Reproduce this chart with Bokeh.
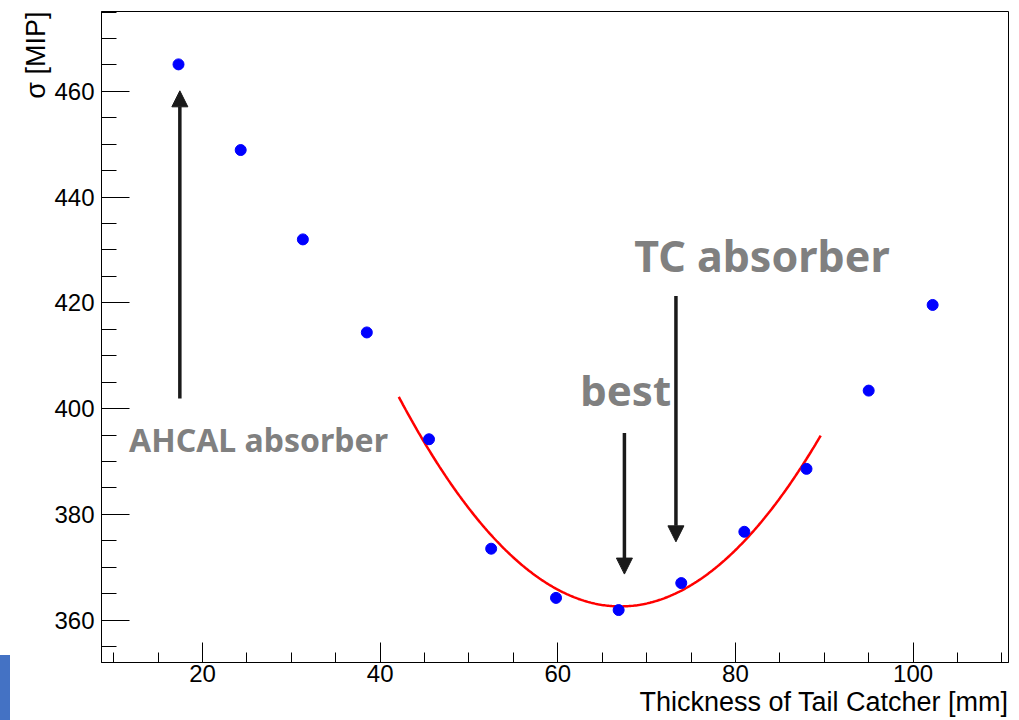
import numpy as np
from bokeh.plotting import figure
from bokeh.models import (Range1d, SingleIntervalTicker, Label, Arrow, NormalHead,
                          Title, InlineStyleSheet)
from bokeh.embed import file_html
from bokeh.resources import INLINE

# ---- data ----
thickness_mm = [17.3, 24.3, 31.3, 38.5, 45.5, 52.5, 59.8, 66.85, 73.9, 81.0, 88.0, 95.0, 102.2]
sigma_mip = [465.1, 448.9, 432.0, 414.4, 394.2, 373.5, 364.2, 361.9, 367.0, 376.7, 388.6, 403.4, 419.6]

# pol2 fit drawn in the reference: p0 + p1*x + p2*x^2
fit_p0 = 648.6
fit_p1 = -8.530
fit_p2 = 0.0636
fit_x_min = 42.1
fit_x_max = 89.6

x_range = (8.63, 110.74)
y_range = (351.98, 475.1)

x_title = "Thickness of Tail Catcher [mm]"
y_title = "σ [MIP]"

# annotation arrows: (x, y_start, y_end)
arrow_ahcal = (17.45, 401.9, 460.1)
arrow_best = (67.5, 395.4, 368.7)
arrow_tc = (73.3, 421.3, 374.8)

# ---- figure ----
p = figure(width=1019, height=720, output_backend="svg", toolbar_location=None,
           x_range=Range1d(*x_range), y_range=Range1d(*y_range),
           min_border_left=101, min_border_right=11, min_border_top=11, min_border_bottom=58)
p.background_fill_color = "white"
p.border_fill_color = "white"
p.outline_line_color = "black"
p.outline_line_width = 1
p.xgrid.visible = False
p.ygrid.visible = False

p.xaxis.ticker = SingleIntervalTicker(interval=20, num_minor_ticks=4)
p.yaxis.ticker = SingleIntervalTicker(interval=20, num_minor_ticks=4)
for ax in (p.xaxis, p.yaxis):
    ax.axis_line_color = "black"
    ax.major_tick_line_color = "black"
    ax.minor_tick_line_color = "black"
    ax.major_tick_out = 0
    ax.minor_tick_out = 0
    ax.major_label_text_font = "Liberation Sans"
    ax.major_label_text_font_size = "24px"
    ax.major_label_text_color = "black"
p.yaxis.major_tick_in = 28
p.yaxis.minor_tick_in = 15
p.yaxis.major_label_standoff = 7
p.xaxis.major_tick_in = 20
p.xaxis.minor_tick_in = 10
p.xaxis.major_label_standoff = 2

# axis titles, right/top aligned like the reference
p.add_layout(Title(text=x_title, align="right", text_font="Liberation Sans",
                   text_font_style="normal", text_font_size="27px", text_color="black",
                   standoff=0, offset=0), "below")
p.add_layout(Title(text=y_title, align="right", text_font="Liberation Sans",
                   text_font_style="normal", text_font_size="27px", text_color="black",
                   standoff=2, offset=0), "left")

# fit curve
xf = np.linspace(fit_x_min, fit_x_max, 300)
yf = fit_p0 + fit_p1 * xf + fit_p2 * xf ** 2
p.line(xf, yf, line_color="red", line_width=2.5)

# data points
p.scatter(thickness_mm, sigma_mip, size=11, color="#0000ff")

# arrows
for (ax_x, ys, ye) in (arrow_ahcal, arrow_best, arrow_tc):
    p.add_layout(Arrow(end=NormalHead(size=16, fill_color="#1a1a1a", line_color="#1a1a1a"),
                       x_start=ax_x, y_start=ys, x_end=ax_x, y_end=ye,
                       line_color="#1a1a1a", line_width=3.5))

# annotation texts
gray = "#808080"
p.add_layout(Label(x=11.73, y=394.15, text="AHCAL absorber", text_font="Noto Sans",
                   text_font_style="bold", text_font_size="32px", text_color=gray,
                   text_align="left", text_baseline="alphabetic"))
p.add_layout(Label(x=68.6, y=428.86, text="TC absorber", text_font="Noto Sans",
                   text_font_style="bold", text_font_size="43px", text_color=gray,
                   text_align="left", text_baseline="alphabetic"))
p.add_layout(Label(x=62.52, y=403.6, text="best", text_font="Noto Sans",
                   text_font_style="bold", text_font_size="42px", text_color=gray,
                   text_align="left", text_baseline="alphabetic"))

# slide decoration bar (bottom-left corner of the slide)
p.stylesheets = [InlineStyleSheet(css=(
    ":host { position: relative; }"
    ":host::after { content: ''; position: absolute; left: 0px; top: 655px;"
    " width: 10px; height: 65px; background: #4472C4; z-index: 10; }"))]

open("out.html", "w").write(file_html(p, INLINE))
